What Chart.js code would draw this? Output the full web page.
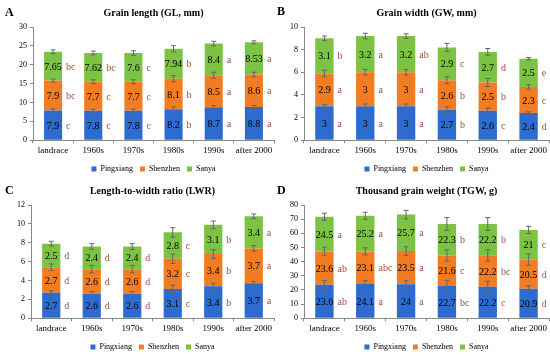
<!DOCTYPE html>
<html>
<head>
<meta charset="utf-8">
<script src="https://cdn.jsdelivr.net/npm/chart.js@4.4.1/dist/chart.umd.min.js"></script>
<style>
  html, body { margin: 0; padding: 0; background: #fff; }
  #wrap { position: relative; width: 550px; height: 356px; overflow: hidden; }
  .panel { position: absolute; width: 275px; height: 178px; }
  .tag { position: absolute; font: bold 12px "Liberation Serif", serif; color: #000; }
</style>
</head>
<body>
<div id="wrap">
  <div class="panel" style="left:0;top:0"><canvas id="chart-a"></canvas></div>
  <div class="panel" style="left:275px;top:0"><canvas id="chart-b"></canvas></div>
  <div class="panel" style="left:0;top:178px"><canvas id="chart-c"></canvas></div>
  <div class="panel" style="left:275px;top:178px"><canvas id="chart-d"></canvas></div>
  <div class="tag" style="left:5px;top:5px">A</div>
  <div class="tag" style="left:277px;top:4px">B</div>
  <div class="tag" style="left:5px;top:183px">C</div>
  <div class="tag" style="left:277px;top:183px">D</div>
</div>
<script>
const categories = ["landrace", "1960s", "1970s", "1980s", "1990s", "after 2000"];
const sites = ["Pingxiang", "Shenzhen", "Sanya"];

// A - grain length
const glPing = [7.9, 7.8, 7.8, 8.2, 8.7, 8.8];
const glShen = [7.9, 7.7, 7.7, 8.1, 8.5, 8.6];
const glSanya = [7.65, 7.62, 7.6, 7.94, 8.4, 8.53];
const glPingErr = [0.4, 0.4, 0.4, 0.6, 0.5, 0.4];
const glShenErr = [0.4, 0.5, 0.5, 0.8, 0.8, 0.6];
const glSanyaErr = [0.5, 0.5, 0.6, 0.8, 0.6, 0.4];
const glPingLet = ["c", "c", "c", "b", "a", "a"];
const glShenLet = ["bc", "c", "c", "b", "a", "a"];
const glSanyaLet = ["bc", "bc", "c", "b", "a", "a"];

// B - grain width
const gwPing = [3, 3, 3, 2.7, 2.6, 2.4];
const gwShen = [2.9, 3, 3, 2.6, 2.5, 2.3];
const gwSanya = [3.1, 3.2, 3.2, 2.9, 2.7, 2.5];
const gwPingErr = [0.15, 0.2, 0.2, 0.25, 0.25, 0.1];
const gwShenErr = [0.3, 0.25, 0.25, 0.3, 0.35, 0.2];
const gwSanyaErr = [0.2, 0.25, 0.2, 0.35, 0.3, 0.1];
const gwPingLet = ["a", "a", "a", "b", "c", "d"];
const gwShenLet = ["a", "a", "a", "b", "b", "c"];
const gwSanyaLet = ["b", "a", "ab", "c", "d", "e"];

// C - length-to-width ratio
const lwrPing = [2.7, 2.6, 2.6, 3.1, 3.4, 3.7];
const lwrShen = [2.7, 2.6, 2.6, 3.2, 3.4, 3.7];
const lwrSanya = [2.5, 2.4, 2.4, 2.8, 3.1, 3.4];
const lwrPingErr = [0.2, 0.2, 0.2, 0.4, 0.3, 0.2];
const lwrShenErr = [0.35, 0.4, 0.4, 0.5, 0.45, 0.3];
const lwrSanyaErr = [0.25, 0.3, 0.3, 0.5, 0.4, 0.25];
const lwrPingLet = ["d", "d", "d", "c", "b", "a"];
const lwrShenLet = ["d", "d", "d", "c", "b", "a"];
const lwrSanyaLet = ["d", "d", "d", "c", "b", "a"];

// D - thousand grain weight
const tgwPing = [23.6, 24.1, 24, 22.7, 22.2, 20.9];
const tgwShen = [23.6, 23.1, 23.5, 21.6, 22.2, 20.5];
const tgwSanya = [24.5, 25.2, 25.7, 22.3, 22.2, 21];
const tgwPingErr = [3, 2.5, 2.5, 4, 4, 2];
const tgwShenErr = [3, 2.5, 3, 4, 4, 4];
const tgwSanyaErr = [2.5, 2.5, 3, 4.5, 4.5, 2.5];
const tgwPingLet = ["ab", "a", "a", "bc", "c", "d"];
const tgwShenLet = ["ab", "abc", "a", "c", "bc", "d"];
const tgwSanyaLet = ["a", "a", "a", "b", "b", "c"];

const colors = ["#2E6BCF", "#F27C21", "#7CC243"];
const FONT = "Liberation Serif";

// error bars, value labels and letters, all placed through the scales
const barExtras = {
  id: "barExtras",
  afterDatasetsDraw(chart) {
    const ctx = chart.ctx;
    const y = chart.scales.y;
    const sums = categories.map(() => 0);
    ctx.save();
    chart.data.datasets.forEach((ds, i) => {
      const meta = chart.getDatasetMeta(i);
      meta.data.forEach((bar, j) => {
        sums[j] += ds.data[j];
        const top = sums[j];
        const err = ds.errors[j];
        const y1 = y.getPixelForValue(top + err);
        const y2 = y.getPixelForValue(top - err);
        ctx.strokeStyle = "#666";
        ctx.lineWidth = 1;
        ctx.beginPath();
        ctx.moveTo(bar.x, y1); ctx.lineTo(bar.x, y2);
        ctx.moveTo(bar.x - 2.5, y1); ctx.lineTo(bar.x + 2.5, y1);
        ctx.moveTo(bar.x - 2.5, y2); ctx.lineTo(bar.x + 2.5, y2);
        ctx.stroke();

        const mid = (bar.y + bar.base) / 2;
        ctx.font = "10px '" + FONT + "'";
        ctx.textBaseline = "middle";
        ctx.fillStyle = "#000";
        ctx.textAlign = "center";
        ctx.fillText(String(ds.data[j]), bar.x, mid + 1);
        ctx.fillStyle = "#A0503C";
        ctx.textAlign = "left";
        ctx.fillText(ds.letters[j], bar.x + bar.width / 2 + 4, mid + 1);
      });
    });
    ctx.restore();
  }
};

function makeChart(id, title, max, step, padLeft, vals, errs, lets) {
  const canvas = document.getElementById(id);
  canvas.width = 275;
  canvas.height = 178;
  return new Chart(canvas.getContext("2d"), {
    type: "bar",
    data: {
      labels: categories,
      datasets: sites.map((name, i) => ({
        label: name,
        data: vals[i],
        errors: errs[i],
        letters: lets[i],
        backgroundColor: colors[i],
        borderWidth: 0,
        categoryPercentage: 1,
        barPercentage: 0.45
      }))
    },
    options: {
      responsive: false,
      animation: false,
      layout: { padding: { left: padLeft, right: 1, top: 0, bottom: -5 } },
      plugins: {
        title: {
          display: true,
          text: title,
          fullSize: false,
          color: "#000",
          font: { family: FONT, size: 10, weight: "bold" },
          padding: { top: 7, bottom: 8 }
        },
        legend: {
          position: "bottom",
          fullSize: false,
          labels: {
            color: "#000",
            font: { family: FONT, size: 8 },
            usePointStyle: true,
            pointStyle: "rect",
            boxWidth: 5,
            boxHeight: 5,
            padding: 7
          }
        },
        tooltip: { enabled: false }
      },
      scales: {
        x: {
          stacked: true,
          grid: { display: true, drawOnChartArea: false, tickLength: 3, color: "#888" },
          border: { color: "#888" },
          ticks: { color: "#000", font: { family: FONT, size: 9 }, maxRotation: 0, autoSkip: false, padding: 2 }
        },
        y: {
          stacked: true,
          min: 0,
          max: max,
          grid: { display: true, drawOnChartArea: false, tickLength: 3, color: "#888" },
          border: { color: "#888" },
          ticks: { stepSize: step, color: "#000", font: { family: FONT, size: 8 }, padding: 3 }
        }
      }
    },
    plugins: [barExtras]
  });
}

makeChart("chart-a", "Grain length (GL, mm)", 30, 5, 16,
  [glPing, glShen, glSanya], [glPingErr, glShenErr, glSanyaErr], [glPingLet, glShenLet, glSanyaLet]);
makeChart("chart-b", "Grain width (GW, mm)", 10, 1, 12,
  [gwPing, gwShen, gwSanya], [gwPingErr, gwShenErr, gwSanyaErr], [gwPingLet, gwShenLet, gwSanyaLet]);
makeChart("chart-c", "Length-to-width ratio (LWR)", 12, 2, 14,
  [lwrPing, lwrShen, lwrSanya], [lwrPingErr, lwrShenErr, lwrSanyaErr], [lwrPingLet, lwrShenLet, lwrSanyaLet]);
makeChart("chart-d", "Thousand grain weight (TGW, g)", 80, 10, 12,
  [tgwPing, tgwShen, tgwSanya], [tgwPingErr, tgwShenErr, tgwSanyaErr], [tgwPingLet, tgwShenLet, tgwSanyaLet]);
</script>
</body>
</html>
